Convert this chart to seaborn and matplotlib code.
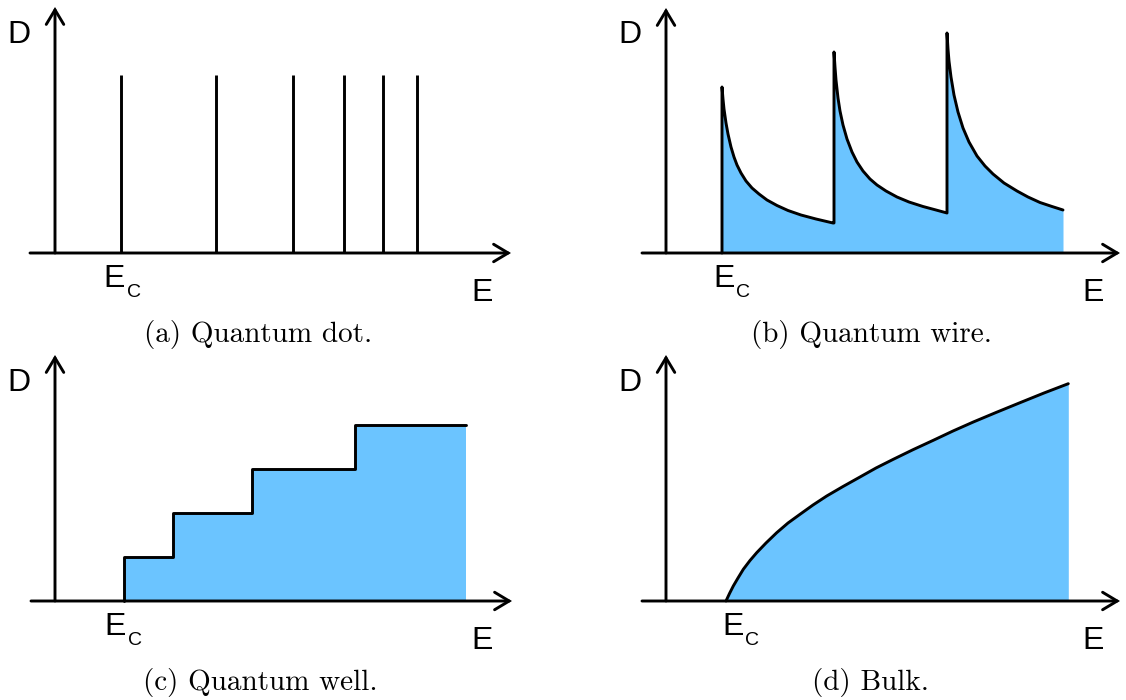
import matplotlib
matplotlib.use("Agg")
import matplotlib.pyplot as plt
import seaborn as sns
import pandas as pd

# ---- density-of-states sketches (arbitrary units: E to the right, D upward) ----
# (a) quantum dot: discrete levels
dot_levels = [66, 161, 238, 289, 328, 362]
dot_height = 178

# (b) quantum wire: 1/sqrt(E - En) sub-bands, one list per sub-band
wire_seg1_E = [56, 56, 57, 58, 60, 62, 65, 68, 71, 75, 80, 86, 93, 101, 111, 122, 135, 150, 167]
wire_seg1_D = [0, 166, 154, 144, 130, 119, 106, 96, 88, 80, 72, 65, 59, 53, 47.5, 42.5, 38, 34, 30]
wire_seg2_E = [168, 168, 169, 170, 172, 174, 177, 181, 186, 191, 197, 204, 211, 220, 231, 243, 257, 270, 281]
wire_seg2_D = [30, 201, 186, 173, 155, 142, 128, 114, 101, 91, 82, 74, 68, 62, 56, 51, 46.5, 43, 40]
wire_seg3_E = [281, 281, 282, 283, 285, 288, 292, 297, 303, 311, 319, 327, 338, 351, 362, 374, 386, 397]
wire_seg3_D = [40, 220, 204, 192, 176, 158, 141, 125, 111, 97, 87, 79, 70, 62, 56, 50.5, 46.5, 43]

# (c) quantum well: staircase
well_edges = [69, 118, 197, 300, 411]
well_levels = [44, 88, 132, 176]

# (d) bulk: sqrt-like onset above Ec
bulk_E = [60, 63.5, 67.3, 72, 77.3, 84, 90.7, 100, 110.7, 122, 134, 147, 160.7, 177, 194,
          210, 227.3, 247, 267.3, 287, 307.3, 330, 354, 378, 402.3]
bulk_D = [0, 7.5, 15, 23, 31.7, 40.5, 48.3, 58, 68.3, 78, 86.7, 96, 105, 114.5, 124,
          133, 141.7, 151.3, 160.7, 170, 179, 188.5, 198.3, 208, 217.3]

captions = ["(a) Quantum dot.", "(b) Quantum wire.", "(c) Quantum well.", "(d) Bulk."]

FILL = "#6BC4FF"
LW = 2.1
W, H, DPI = 1126, 700, 100

sns.set_theme(style="white")
plt.rcParams["font.family"] = ["Liberation Sans", "DejaVu Sans"]

fig = plt.figure(figsize=(W / DPI, H / DPI), dpi=DPI)

# panel boxes in pixels (left, top) and the position of the origin inside the figure
boxes = [(0, 0), (563, 0), (0, 350), (563, 350)]
origins = [(55, 253), (666, 253), (55, 601), (666, 601)]
axes = []
for (bx, by), (ox, oy) in zip(boxes, origins):
    ax = fig.add_axes([bx / W, 1 - (by + 350) / H, 563 / W, 350 / H])
    ax.set_xlim(bx - ox, bx + 563 - ox)
    ax.set_ylim(-(by + 350 - oy), oy - by)
    ax.set_axis_off()
    axes.append(ax)


def draw_frame(ax, x_start, x_tip, y_tip, ec_x, ec_sub_x):
    arrow = dict(arrowstyle="->,head_length=0.75,head_width=0.45", lw=LW, color="black",
                 shrinkA=0, shrinkB=0, mutation_scale=14, joinstyle="miter")
    ax.annotate("", xy=(x_tip, 0), xytext=(x_start, 0), arrowprops=arrow, annotation_clip=False)
    ax.annotate("", xy=(0, y_tip), xytext=(0, 0), arrowprops=arrow, annotation_clip=False)
    ax.text(-48, 210, "D", fontsize=23, ha="left", va="baseline", color="black")
    ax.text(416, -48, "E", fontsize=23, ha="left", va="baseline", color="black")
    ax.text(ec_x, -34, "E", fontsize=23, ha="left", va="baseline", color="black")
    ax.text(ec_sub_x, -44, "C", fontsize=14, ha="left", va="baseline", color="black")


def caption(ax, text, cx):
    ax.text(cx, -89, text, fontsize=21, family="cmr10", ha="center", va="baseline", color="black")


# (a) quantum dot
ax = axes[0]
dot_df = pd.DataFrame({
    "E": [e for e in dot_levels for _ in range(2)],
    "D": [d for _ in dot_levels for d in (0, dot_height)],
    "level": [i for i in range(len(dot_levels)) for _ in range(2)],
})
sns.lineplot(data=dot_df, x="E", y="D", units="level", estimator=None, sort=False,
             color="black", lw=LW, solid_capstyle="butt", legend=False, ax=ax)
draw_frame(ax, -25, 456, 246, 48, 72)
caption(ax, captions[0], 203)

# (b) quantum wire
ax = axes[1]
wire_E = wire_seg1_E + wire_seg2_E + wire_seg3_E
wire_D = wire_seg1_D + wire_seg2_D + wire_seg3_D
ax.fill_between(wire_E, wire_D, 0, color=FILL, lw=0)
sns.lineplot(x=wire_E, y=wire_D, sort=False, estimator=None, color="black", lw=LW, ax=ax)
draw_frame(ax, -24, 454, 245, 47, 70)
caption(ax, captions[1], 205)

# (c) quantum well
ax = axes[2]
well_E = [well_edges[0]] + well_edges
well_D = [0] + well_levels + [well_levels[-1]]
ax.fill_between(well_E, well_D, 0, step="post", color=FILL, lw=0)
sns.lineplot(x=well_E, y=well_D, sort=False, estimator=None, drawstyle="steps-post",
             color="black", lw=LW, ax=ax)
draw_frame(ax, -24, 457, 246, 49, 73)
caption(ax, captions[2], 205)

# (d) bulk
ax = axes[3]
ax.fill_between(bulk_E, bulk_D, 0, color=FILL, lw=0)
sns.lineplot(x=bulk_E, y=bulk_D, sort=False, estimator=None, color="black", lw=LW, ax=ax)
draw_frame(ax, -24, 454, 246, 56, 79)
caption(ax, captions[3], 204)

fig.savefig("out.png", dpi=DPI)
